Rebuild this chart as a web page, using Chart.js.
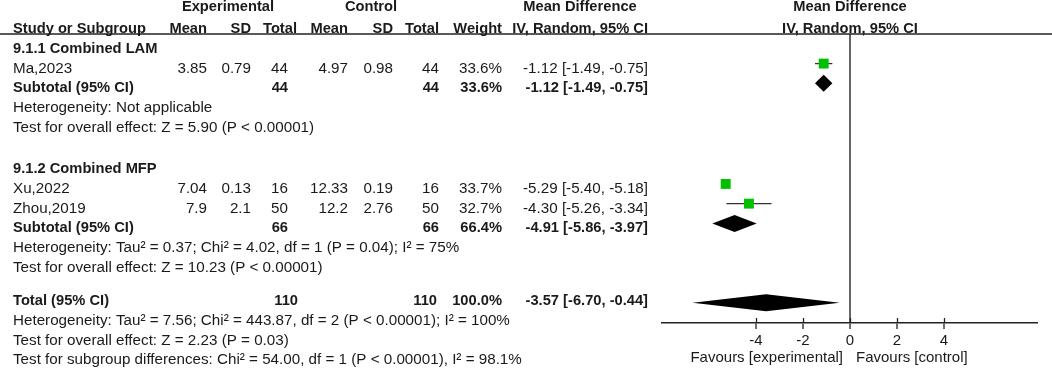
<!DOCTYPE html>
<html>
<head>
<meta charset="utf-8">
<title>Forest plot 9.1</title>
<script src="https://cdn.jsdelivr.net/npm/chart.js@4.4.1/dist/chart.umd.min.js"></script>
<style>
  html,body{margin:0;padding:0;background:#fff;overflow:hidden;}
  #wrap{width:1052px;height:375px;position:relative;}
</style>
</head>
<body>
<div id="wrap"><canvas id="forest" width="1052" height="375"></canvas></div>
<script>
/* ── Data ── */
const studies=['Ma,2023','Xu,2022','Zhou,2019'];
const studyGroup=[0,1,1];
const expMean=[3.85,7.04,7.9];
const expSD=[0.79,0.13,2.1];
const expN=[44,16,50];
const ctrlMean=[4.97,12.33,12.2];
const ctrlSD=[0.98,0.19,2.76];
const ctrlN=[44,16,50];
const weights=[33.6,33.7,32.7];
const md=[-1.12,-5.29,-4.30];
const ciLow=[-1.49,-5.40,-5.26];
const ciHigh=[-0.75,-5.18,-3.34];

const groups=['9.1.1 Combined LAM','9.1.2 Combined MFP'];
const groupExpN=[44,66];
const groupCtrlN=[44,66];
const groupWeight=[33.6,66.4];
const groupMd=[-1.12,-4.91];
const groupLow=[-1.49,-5.86];
const groupHigh=[-0.75,-3.97];
const groupHet=['Heterogeneity: Not applicable','Heterogeneity: Tau² = 0.37; Chi² = 4.02, df = 1 (P = 0.04); I² = 75%'];
const groupTest=['Test for overall effect: Z = 5.90 (P < 0.00001)','Test for overall effect: Z = 10.23 (P < 0.00001)'];

const totalExpN=110, totalCtrlN=110, totalWeight=100.0;
const totalMd=-3.57, totalLow=-6.70, totalHigh=-0.44;
const totalNotes=[
  'Heterogeneity: Tau² = 7.56; Chi² = 443.87, df = 2 (P < 0.00001); I² = 100%',
  'Test for overall effect: Z = 2.23 (P = 0.03)',
  'Test for subgroup differences: Chi² = 54.00, df = 1 (P < 0.00001), I² = 98.1%'
];

const tickValues=[-4,-2,0,2,4];
const axisMin=-8, axisMax=8;

/* ── Layout (row slots on the y scale, column x in px) ── */
const FONT='"Liberation Sans", Arial, sans-serif';
const COL={label:13,eMean:207,eSD:251,eN:288,cMean:348,cSD:393,cN:439,w:502,ci:648,plot:850};
const groupStart=[0,6.1];
const totalSlot=12.8;
const totalMarkSlot=13.12;
const totalNoteSlots=[13.8,14.8,15.78];
const TEXT_DY=5;

const fmtCI=(m,l,h)=>m.toFixed(2)+' ['+l.toFixed(2)+', '+h.toFixed(2)+']';
const fmtW=w=>w.toFixed(1)+'%';

/* build text rows + mark rows */
const textRows=[];
const studySlot=[];
const diamonds=[];
textRows.push({slot:-2.1,bold:true,cells:[['Experimental',228,'center'],['Control',371,'center'],['Mean Difference',580,'center'],['Mean Difference',COL.plot,'center']]});
textRows.push({slot:-1.02,bold:true,cells:[['Study or Subgroup',COL.label,'left'],['Mean',COL.eMean,'right'],['SD',COL.eSD,'right'],['Total',297,'right'],['Mean',COL.cMean,'right'],['SD',COL.cSD,'right'],['Total',COL.cN,'right'],['Weight',COL.w,'right'],['IV, Random, 95% CI',COL.ci,'right'],['IV, Random, 95% CI',COL.plot,'center']]});
groups.forEach((g,gi)=>{
  let s=groupStart[gi];
  textRows.push({slot:s,bold:true,cells:[[g,COL.label,'left']]});
  studies.forEach((name,i)=>{
    if(studyGroup[i]!==gi)return;
    s+=1;
    studySlot[i]=s;
    textRows.push({slot:s,bold:false,cells:[
      [name,COL.label,'left'],[String(expMean[i]),COL.eMean,'right'],[String(expSD[i]),COL.eSD,'right'],[String(expN[i]),COL.eN,'right'],
      [String(ctrlMean[i]),COL.cMean,'right'],[String(ctrlSD[i]),COL.cSD,'right'],[String(ctrlN[i]),COL.cN,'right'],
      [fmtW(weights[i]),COL.w,'right'],[fmtCI(md[i],ciLow[i],ciHigh[i]),COL.ci,'right']]});
  });
  s+=1;
  diamonds.push({est:groupMd[gi],lo:groupLow[gi],hi:groupHigh[gi],slot:s});
  textRows.push({slot:s,bold:true,cells:[['Subtotal (95% CI)',COL.label,'left'],[String(groupExpN[gi]),COL.eN,'right'],[String(groupCtrlN[gi]),COL.cN,'right'],[fmtW(groupWeight[gi]),COL.w,'right'],[fmtCI(groupMd[gi],groupLow[gi],groupHigh[gi]),COL.ci,'right']]});
  textRows.push({slot:s+1,bold:false,cells:[[groupHet[gi],COL.label,'left']]});
  textRows.push({slot:s+2,bold:false,cells:[[groupTest[gi],COL.label,'left']]});
});
diamonds.push({est:totalMd,lo:totalLow,hi:totalHigh,slot:totalMarkSlot});
textRows.push({slot:totalSlot,bold:true,cells:[['Total (95% CI)',COL.label,'left'],[String(totalExpN),298,'right'],[String(totalCtrlN),437,'right'],[fmtW(totalWeight),COL.w,'right'],[fmtCI(totalMd,totalLow,totalHigh),COL.ci,'right']]});
totalNotes.forEach((t,i)=>textRows.push({slot:totalNoteSlots[i],bold:false,cells:[[t,COL.label,'left']]}));

/* ── Datasets ── */
const whiskerSets=studies.map((n,i)=>({
  label:n+' CI',order:2,showLine:true,pointRadius:0,borderColor:'#333',borderWidth:1.3,
  data:[{x:ciLow[i],y:studySlot[i]},{x:ciHigh[i],y:studySlot[i]}]
}));
const squareSet={
  label:'Studies',order:1,pointStyle:'rect',pointRadius:7,backgroundColor:'#00c000',borderWidth:0,
  data:studies.map((n,i)=>({x:md[i],y:studySlot[i]}))
};

/* ── Plugins ── */
const tablePlugin={
  id:'table',
  beforeDraw(chart){
    const c=chart.ctx;
    c.save();c.fillStyle='#fff';c.fillRect(0,0,chart.width,chart.height);c.restore();
  },
  afterDatasetsDraw(chart){
    const c=chart.ctx,xs=chart.scales.x,ys=chart.scales.y;
    c.save();
    c.fillStyle='#000';
    diamonds.forEach(d=>{
      const y=ys.getPixelForValue(d.slot),h=8.5;
      c.beginPath();
      c.moveTo(xs.getPixelForValue(d.lo),y);
      c.lineTo(xs.getPixelForValue(d.est),y-h);
      c.lineTo(xs.getPixelForValue(d.hi),y);
      c.lineTo(xs.getPixelForValue(d.est),y+h);
      c.closePath();c.fill();
    });
    c.restore();
  },
  afterDraw(chart){
    const c=chart.ctx,ys=chart.scales.y,xs=chart.scales.x,top=chart.chartArea.top,bottom=chart.chartArea.bottom;
    c.save();
    /* header rule */
    c.strokeStyle='#222';c.lineWidth=1.5;
    c.beginPath();c.moveTo(0,top);c.lineTo(chart.width,top);c.stroke();
    /* inner half of the tick marks */
    c.lineWidth=1.3;
    tickValues.forEach(v=>{const x=Math.round(xs.getPixelForValue(v))+0.5;c.beginPath();c.moveTo(x,bottom-5);c.lineTo(x,bottom);c.stroke();});
    /* table text */
    c.fillStyle='#1a1a1a';c.textBaseline='middle';
    textRows.forEach(r=>{
      c.font=r.bold?'bold 14.7px '+FONT:'15.2px '+FONT;
      const y=ys.getPixelForValue(r.slot)+TEXT_DY;
      r.cells.forEach(([t,x,a])=>{c.textAlign=a;c.fillText(t,x,y);});
    });
    /* favours labels */
    c.font='15px '+FONT;
    const fy=358,zx=xs.getPixelForValue(0);
    c.textAlign='right';c.fillText('Favours [experimental]',zx-7,fy);
    c.textAlign='left';c.fillText('Favours [control]',zx+6,fy);
    c.restore();
  }
};

/* ── Chart ── */
new Chart(document.getElementById('forest'),{
  type:'scatter',
  data:{datasets:[...whiskerSets,squareSet]},
  options:{
    responsive:false,animation:false,devicePixelRatio:1,
    layout:{padding:{left:662,right:14,top:34,bottom:0}},
    plugins:{legend:{display:false},tooltip:{enabled:false}},
    scales:{
      x:{
        type:'linear',min:axisMin,max:axisMax,position:'bottom',
        afterBuildTicks:s=>{s.ticks=tickValues.map(v=>({value:v}));},
        afterFit:s=>{s.height=52;},
        ticks:{color:'#1a1a1a',font:{family:FONT,size:15},padding:3,autoSkip:false,maxRotation:0,callback:v=>String(v)},
        grid:{
          drawOnChartArea:true,drawTicks:true,tickLength:6,tickColor:'#222',tickWidth:1.3,
          color:ctx=>ctx.tick&&ctx.tick.value===0?'#666':'rgba(0,0,0,0)',
          lineWidth:ctx=>ctx.tick&&ctx.tick.value===0?2:0
        },
        border:{display:true,color:'#222',width:1.5}
      },
      y:{type:'linear',display:false,reverse:true,min:-0.5,max:14.15}
    }
  },
  plugins:[tablePlugin]
});
</script>
</body>
</html>
